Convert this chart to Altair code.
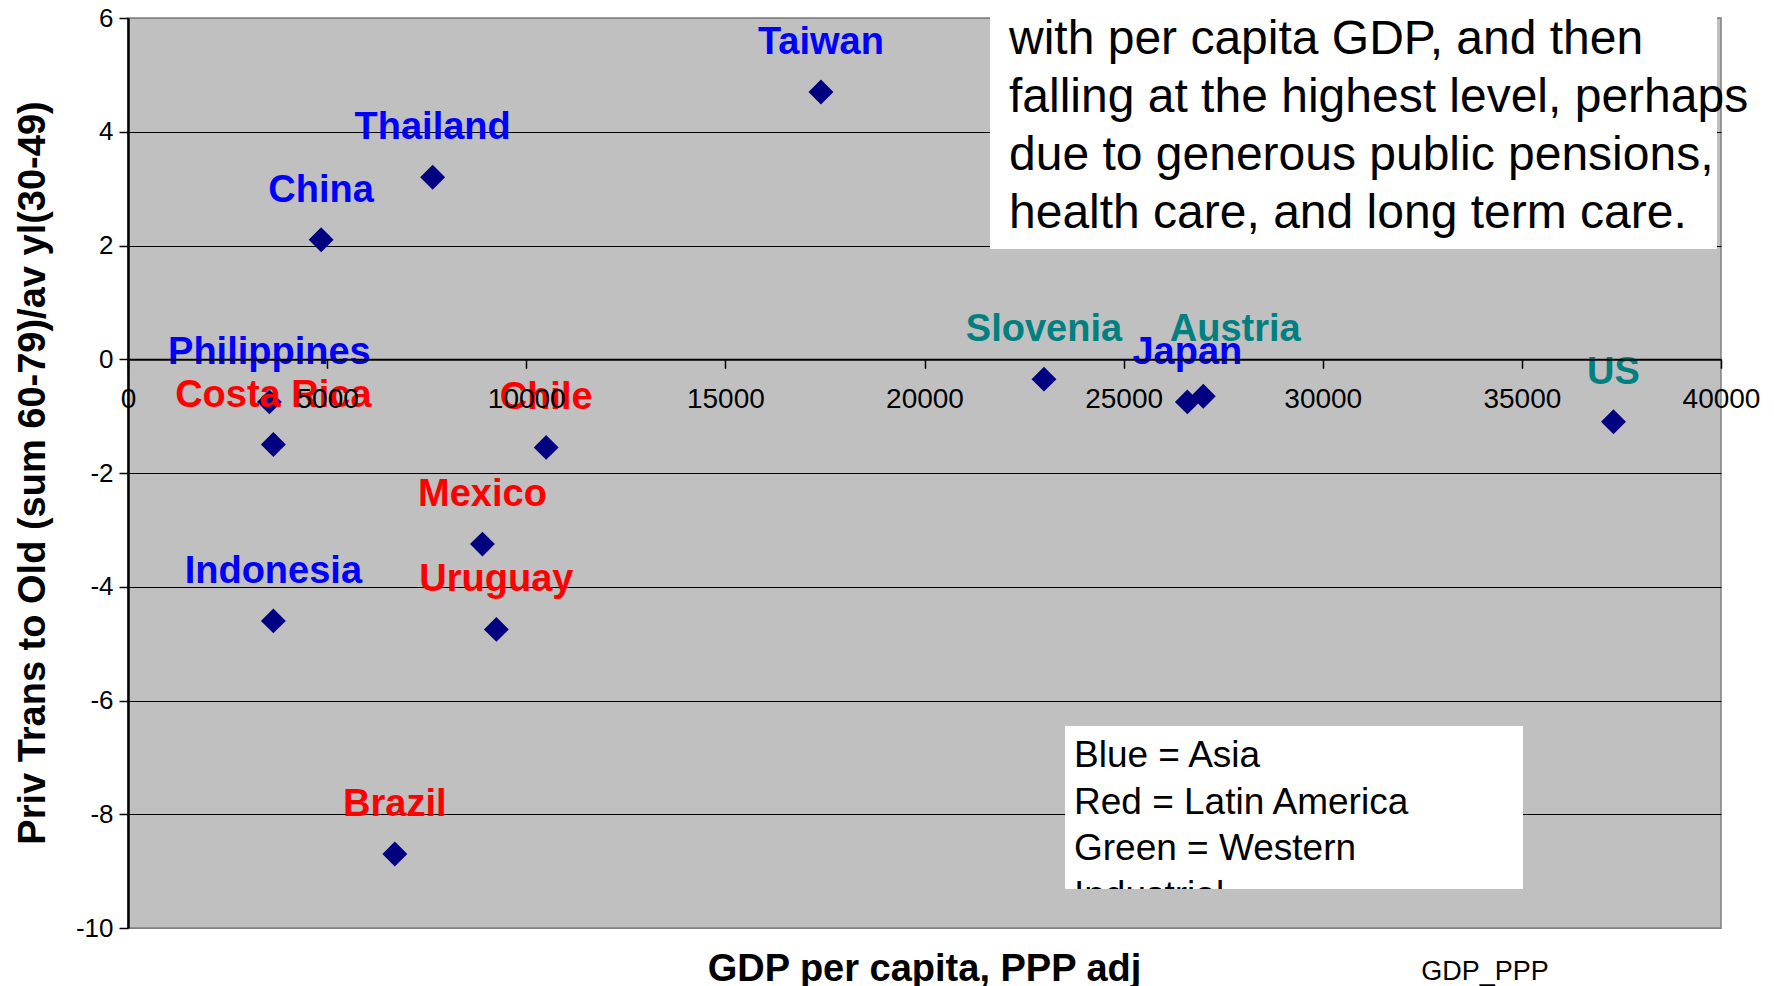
import altair as alt
import pandas as pd

countries = ["Taiwan", "Thailand", "China", "Philippines", "Costa Rica", "Chile", "Mexico",
             "Indonesia", "Uruguay", "Brazil", "Slovenia", "Japan", "Austria", "US"]
gdp_ppp = [17400, 7650, 4850, 3550, 3650, 10500, 8900, 3650, 9250, 6700, 23000, 26600, 27000, 37300]
priv_trans = [4.7, 3.2, 2.1, -0.75, -1.5, -1.55, -3.25, -4.6, -4.75, -8.7, -0.35, -0.75, -0.65, -1.1]
regions = ["Asia", "Asia", "Asia", "Asia", "Latin America", "Latin America", "Latin America",
           "Asia", "Latin America", "Latin America", "Western Industrial", "Asia",
           "Western Industrial", "Western Industrial"]

region_names = ["Asia", "Latin America", "Western Industrial"]
region_colors = ["#0000FF", "#FF0000", "#008080"]

x_ticks = [0, 5000, 10000, 15000, 20000, 25000, 30000, 35000, 40000]
y_ticks = [-10, -8, -6, -4, -2, 0, 2, 4, 6]

x_title = "GDP per capita, PPP adj"
x_field_name = "GDP_PPP"
y_title = "Priv Trans to Old (sum 60-79)/av yl(30-49)"

note_lines = ["with per capita GDP, and then",
              "falling at the highest level, perhaps",
              "due to generous public pensions,",
              "health care, and long term care."]
legend_lines = ["Blue = Asia", "Red = Latin America", "Green = Western", "Industrial"]

df = pd.DataFrame({"country": countries, "gdp": gdp_ppp, "trans": priv_trans, "region": regions})

W, H = 1593, 910
FONT = "Liberation Sans"

x_scale = alt.Scale(domain=[0, 40000], nice=False, zero=False)
y_scale = alt.Scale(domain=[-10, 6], nice=False, zero=False)

zero_offset = -(H - H * 6 / 16)

x_enc = alt.X("gdp:Q", scale=x_scale, axis=alt.Axis(
    values=x_ticks, title=None, offset=zero_offset, grid=False,
    labelExpr="'' + datum.value",
    domainColor="black", domainWidth=2, tickColor="black", tickSize=9, tickWidth=1.5,
    labelFont=FONT, labelFontSize=28, labelColor="black", labelPadding=17,
    labelOverlap=False, labelFlush=False, zindex=1))
y_enc = alt.Y("trans:Q", scale=y_scale, axis=alt.Axis(
    values=y_ticks, title=None, grid=True,
    labelExpr="'' + datum.value",
    gridColor={"condition": {"test": "datum.value == 6 || datum.value == -10", "value": "#808080"},
               "value": "black"},
    gridWidth=1, domainColor="black", domainWidth=2.5, tickColor="black", tickSize=9,
    tickWidth=1.5, labelFont=FONT, labelFontSize=26, labelColor="black", labelPadding=6,
    labelOverlap=False))

base = alt.Chart(df)

points = base.mark_point(shape="diamond", filled=True, color="#000080", size=620, opacity=1).encode(
    x=x_enc, y=y_enc)

color_enc = alt.Color("region:N", scale=alt.Scale(domain=region_names, range=region_colors), legend=None)

labels = base.transform_filter(alt.datum.country != "Austria").mark_text(
    font=FONT, fontWeight="bold", fontSize=38, dy=-49, baseline="middle", align="center"
).encode(x="gdp:Q", y="trans:Q", text="country:N", color=color_enc)

labels_austria = base.transform_filter(alt.datum.country == "Austria").mark_text(
    font=FONT, fontWeight="bold", fontSize=38, dx=32, dy=-66, baseline="middle", align="center"
).encode(x="gdp:Q", y="trans:Q", text="country:N", color=color_enc)

one = alt.Chart(pd.DataFrame({"k": [0]}))

note_box = one.mark_rect(color="white", opacity=1).encode(
    x=alt.value(862), x2=alt.value(1589), y=alt.value(-30), y2=alt.value(231))
note_text = one.mark_text(
    font=FONT, fontSize=48, align="left", baseline="middle", lineHeight=58,
    lineBreak="\n", color="black"
).encode(x=alt.value(881), y=alt.value(22), text=alt.value("\n".join(note_lines)))

legend_box = one.mark_rect(color="white", opacity=1).encode(
    x=alt.value(937), x2=alt.value(1395), y=alt.value(708), y2=alt.value(871))
legend_text = one.mark_text(
    font=FONT, fontSize=37, align="left", baseline="middle", lineHeight=46.5,
    lineBreak="\n", color="black"
).encode(x=alt.value(946), y=alt.value(738), text=alt.value("\n".join(legend_lines)))
legend_cover = one.mark_rect(color="#C0C0C0", opacity=1).encode(
    x=alt.value(937), x2=alt.value(1395), y=alt.value(871), y2=alt.value(905))

x_title_mark = one.mark_text(
    font=FONT, fontSize=38, fontWeight="bold", align="center", baseline="middle", color="black"
).encode(x=alt.value(W / 2), y=alt.value(952), text=alt.value(x_title))
x_field_mark = one.mark_text(
    font=FONT, fontSize=27, align="center", baseline="middle", color="black"
).encode(x=alt.value(1357), y=alt.value(954), text=alt.value(x_field_name))
y_title_mark = one.mark_text(
    font=FONT, fontSize=38, fontWeight="bold", align="center", baseline="middle",
    angle=270, color="black"
).encode(x=alt.value(-94), y=alt.value(H / 2), text=alt.value(y_title))

chart = alt.layer(
    points, labels, labels_austria, note_box, note_text,
    legend_box, legend_text, legend_cover,
    x_title_mark, x_field_mark, y_title_mark
).properties(
    width=W, height=H,
    background="white",
    autosize=alt.AutoSizeParams(type="none"),
    padding={"left": 120, "top": 10, "right": 45, "bottom": 58},
).configure_view(
    fill="#C0C0C0", stroke="#808080", strokeWidth=1.5
)

chart.save("out.html", embed_options={"renderer": "svg", "actions": False})
